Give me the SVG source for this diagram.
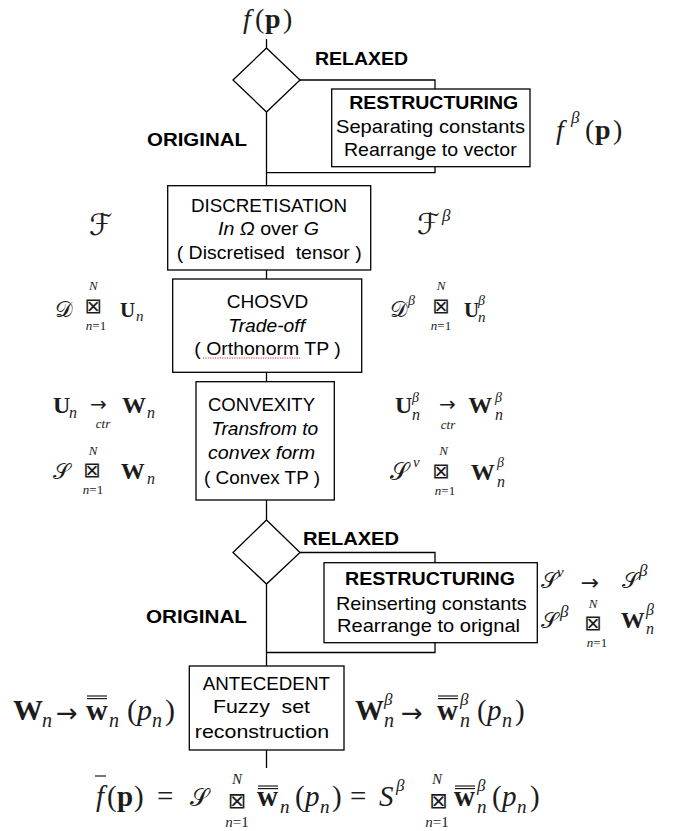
<svg xmlns="http://www.w3.org/2000/svg" width="683" height="831" viewBox="0 0 683 831">
<style>
.box{fill:#fff;stroke:#000;stroke-width:1.3}
.conn{fill:none;stroke:#000;stroke-width:1.3}
.t{font-family:"Liberation Sans",Arial,sans-serif;font-size:19px;text-anchor:middle;fill:#000}
.lbl{font-family:"Liberation Sans",Arial,sans-serif;font-size:19px;font-weight:bold;fill:#000}
.b{font-weight:bold}
.i{font-style:italic}
.m{font-family:"Liberation Serif","Times New Roman",serif;fill:#1c1c1c}
.mi{font-family:"Liberation Serif","Times New Roman",serif;font-style:italic;fill:#1c1c1c}
.mb{font-family:"Liberation Serif","Times New Roman",serif;font-weight:bold;fill:#1c1c1c}
.sy{font-family:"DejaVu Sans",sans-serif;font-style:normal;fill:#1c1c1c}
.c{text-anchor:middle}
.bar{stroke:#1c1c1c;stroke-width:1.2}
</style>

<g id="connectors">
  <path class="conn" d="M266.5,39 V48"/>
  <path class="conn" d="M300,80 H435 V90"/>
  <path class="conn" d="M435,166 V172.7 H266.5"/>
  <path class="conn" d="M266.5,112 V186"/>
  <path class="conn" d="M266.5,270 V279"/>
  <path class="conn" d="M266.5,372 V382"/>
  <path class="conn" d="M266.5,500 V520"/>
  <path class="conn" d="M300,552.5 H435 V563"/>
  <path class="conn" d="M435,642 V652.5 H266.5"/>
  <path class="conn" d="M266.5,584 V666"/>
  <path class="conn" d="M266.5,750 V768"/>
  <text class="lbl" x="315" y="65" textLength="93" lengthAdjust="spacingAndGlyphs">RELAXED</text>
  <text class="lbl" x="147" y="146" textLength="100" lengthAdjust="spacingAndGlyphs">ORIGINAL</text>
  <text class="lbl" x="303" y="545" textLength="96" lengthAdjust="spacingAndGlyphs">RELAXED</text>
  <text class="lbl" x="146" y="623" textLength="101" lengthAdjust="spacingAndGlyphs">ORIGINAL</text>
</g>

<g id="node-input">
  <text class="mi" x="243" y="28" font-size="28">f</text>
  <text class="m" x="255" y="28" font-size="28">(</text>
  <text class="mb" x="265" y="28" font-size="28">p</text>
  <text class="m" x="283" y="28" font-size="28">)</text>
</g>

<g id="node-decision1">
  <polygon class="box" points="266.5,48 300,80 266.5,112 233,80"/>
</g>

<g id="node-restructuring1">
  <rect class="box" x="331.7" y="89" width="198.3" height="77.7"/>
  <text class="t b" x="433.7" y="109" font-size="18.5" textLength="169" lengthAdjust="spacingAndGlyphs">RESTRUCTURING</text>
  <text class="t" x="430.5" y="132.5" font-size="18.5" textLength="189" lengthAdjust="spacingAndGlyphs">Separating constants</text>
  <text class="t" x="430.3" y="156" font-size="18.5" textLength="172.7" lengthAdjust="spacingAndGlyphs">Rearrange to vector</text>
</g>

<g id="node-fbeta">
  <text class="mi" x="556" y="139" font-size="28">f</text>
  <text class="mi" x="571" y="123" font-size="17">β</text>
  <text class="m" x="585" y="139" font-size="28">(</text>
  <text class="mb" x="595" y="139" font-size="28">p</text>
  <text class="m" x="613" y="139" font-size="28">)</text>
</g>

<g id="node-discretisation">
  <rect class="box" x="167.7" y="185.7" width="203" height="84.3"/>
  <text class="t" x="269" y="211.7" textLength="156" lengthAdjust="spacingAndGlyphs">DISCRETISATION</text>
  <text class="t" x="268.5" y="235" textLength="101" lengthAdjust="spacingAndGlyphs"><tspan class="i">In Ω</tspan> over <tspan class="i">G</tspan></text>
  <text class="t" x="269.2" y="259" style="white-space:pre" textLength="185" lengthAdjust="spacingAndGlyphs">( Discretised  tensor )</text>
</g>

<g id="node-chosvd">
  <rect class="box" x="172.7" y="279" width="189" height="93.3"/>
  <text class="t" x="267.5" y="308.3" textLength="81.6" lengthAdjust="spacingAndGlyphs">CHOSVD</text>
  <text class="t i" x="266.7" y="331.7" textLength="76.7" lengthAdjust="spacingAndGlyphs">Trade-off</text>
  <text class="t" x="267.5" y="355" textLength="146.4" lengthAdjust="spacingAndGlyphs">( Orthonorm TP )</text>
  <line x1="203" y1="358" x2="300" y2="358" stroke="#e03030" stroke-width="1" stroke-dasharray="1.2,1.2"/>
</g>

<g id="node-convexity">
  <rect class="box" x="196" y="381.7" width="138.3" height="118.3"/>
  <text class="t" x="261.5" y="411" textLength="107" lengthAdjust="spacingAndGlyphs">CONVEXITY</text>
  <text class="t i" x="264.7" y="434.5" textLength="107" lengthAdjust="spacingAndGlyphs">Transfrom to</text>
  <text class="t i" x="261.5" y="459.3" textLength="107" lengthAdjust="spacingAndGlyphs">convex form</text>
  <text class="t" x="262" y="484.3" textLength="116" lengthAdjust="spacingAndGlyphs">( Convex TP )</text>
</g>

<g id="node-decision2">
  <polygon class="box" points="266.5,520 300,552.5 266.5,584 233,552.5"/>
</g>

<g id="node-restructuring2">
  <rect class="box" x="324" y="562.7" width="213.3" height="80"/>
  <text class="t b" x="430" y="585" font-size="18.5" textLength="170" lengthAdjust="spacingAndGlyphs">RESTRUCTURING</text>
  <text class="t" x="431.3" y="609.5" font-size="18.5" textLength="190.7" lengthAdjust="spacingAndGlyphs">Reinserting constants</text>
  <text class="t" x="428.5" y="631.7" font-size="18.5" textLength="183" lengthAdjust="spacingAndGlyphs">Rearrange to orignal</text>
</g>

<g id="node-antecedent">
  <rect class="box" x="189.3" y="666" width="154.7" height="84"/>
  <text class="t" x="266.3" y="690" textLength="127.3" lengthAdjust="spacingAndGlyphs">ANTECEDENT</text>
  <text class="t" x="261.5" y="713.3" style="white-space:pre" textLength="97" lengthAdjust="spacingAndGlyphs">Fuzzy  set</text>
  <text class="t" x="262" y="737.7" textLength="134.3" lengthAdjust="spacingAndGlyphs">reconstruction</text>
</g>

<g id="formulas">
  <!-- F left / right -->
  <text class="sy" x="89" y="235" font-size="30">ℱ</text>
  <text class="sy" x="417" y="234" font-size="29">ℱ</text>
  <text class="mi" x="442" y="221" font-size="17">β</text>

  <!-- D x U left -->
  <text class="sy" x="55" y="317" font-size="22">𝒟</text>
  <text class="mi c" x="93.3" y="290" font-size="13">N</text>
  <text class="sy c" x="93.3" y="312.5" font-size="21">⊠</text>
  <text class="m c" x="96" y="329.5" font-size="13"><tspan class="mi">n</tspan>=1</text>
  <text class="mb" x="120" y="317" font-size="21">U</text>
  <text class="mi" x="136" y="321" font-size="15">n</text>
  <!-- D x U right -->
  <text class="sy" x="390" y="317" font-size="22">𝒟</text>
  <text class="mi" x="408" y="305" font-size="14">β</text>
  <text class="mi c" x="441" y="290" font-size="13">N</text>
  <text class="sy c" x="441" y="312.5" font-size="21">⊠</text>
  <text class="m c" x="441" y="329.5" font-size="13"><tspan class="mi">n</tspan>=1</text>
  <text class="mb" x="464" y="317" font-size="21">U</text>
  <text class="mi" x="478" y="305" font-size="14">β</text>
  <text class="mi" x="478" y="322" font-size="15">n</text>

  <!-- U -> W left -->
  <text class="mb" x="53" y="413" font-size="24">U</text>
  <text class="mi" x="69" y="418" font-size="16">n</text>
  <text class="sy c" x="98.5" y="411" font-size="20">→</text>
  <text class="mi c" x="103" y="428" font-size="13">ctr</text>
  <text class="mb" x="122" y="413" font-size="24">W</text>
  <text class="mi" x="147" y="418" font-size="16">n</text>
  <!-- S x W left -->
  <text class="sy" x="53" y="479" font-size="22">𝒮</text>
  <text class="mi c" x="93" y="454.5" font-size="13">N</text>
  <text class="sy c" x="92" y="477" font-size="21">⊠</text>
  <text class="m c" x="93" y="494" font-size="13"><tspan class="mi">n</tspan>=1</text>
  <text class="mb" x="120.7" y="479" font-size="24">W</text>
  <text class="mi" x="147" y="484" font-size="16">n</text>

  <!-- U -> W right -->
  <text class="mb" x="395" y="413" font-size="24">U</text>
  <text class="mi" x="412" y="402" font-size="14">β</text>
  <text class="mi" x="412" y="420" font-size="16">n</text>
  <text class="sy c" x="447.5" y="411" font-size="20">→</text>
  <text class="mi c" x="448" y="428.5" font-size="13">ctr</text>
  <text class="mb" x="468.3" y="413" font-size="24">W</text>
  <text class="mi" x="495" y="402" font-size="14">β</text>
  <text class="mi" x="495" y="420" font-size="16">n</text>
  <!-- S^v x W right -->
  <text class="sy" x="390" y="480" font-size="24">𝒮</text>
  <text class="mi" x="413" y="467" font-size="15">v</text>
  <text class="mi c" x="443.5" y="455" font-size="13">N</text>
  <text class="sy c" x="441" y="478" font-size="21">⊠</text>
  <text class="m c" x="445" y="495" font-size="13"><tspan class="mi">n</tspan>=1</text>
  <text class="mb" x="470.7" y="480" font-size="24">W</text>
  <text class="mi" x="497" y="467" font-size="14">β</text>
  <text class="mi" x="497" y="487" font-size="16">n</text>

  <!-- S^v -> S^beta -->
  <text class="sy" x="540.7" y="588" font-size="22">𝒮</text>
  <text class="mi" x="557" y="577" font-size="15">v</text>
  <text class="sy c" x="590" y="590" font-size="22">→</text>
  <text class="sy" x="621.7" y="588" font-size="22">𝒮</text>
  <text class="mi" x="639" y="576" font-size="17">β</text>
  <!-- S^beta x W^beta -->
  <text class="sy" x="540.7" y="628.3" font-size="22">𝒮</text>
  <text class="mi" x="560" y="617" font-size="17">β</text>
  <text class="mi c" x="593" y="607.5" font-size="13">N</text>
  <text class="sy c" x="593" y="630" font-size="21">⊠</text>
  <text class="m c" x="597" y="647" font-size="13"><tspan class="mi">n</tspan>=1</text>
  <text class="mb" x="620.7" y="628.3" font-size="24">W</text>
  <text class="mi" x="646" y="615" font-size="16">β</text>
  <text class="mi" x="646" y="634" font-size="16">n</text>

  <!-- W_n -> w(p_n) left -->
  <text class="mb" x="13" y="720" font-size="30">W</text>
  <text class="mi" x="42" y="727" font-size="20">n</text>
  <text class="sy c" x="67" y="722" font-size="26">→</text>
  <text class="mb" x="86" y="720" font-size="30">w</text>
  <line class="bar" x1="87" y1="696" x2="107" y2="696"/>
  <line class="bar" x1="87" y1="698.6" x2="107" y2="698.6"/>
  <text class="mi" x="109" y="727" font-size="20">n</text>
  <text class="m" x="127" y="720" font-size="30">(</text>
  <text class="mi" x="137" y="720" font-size="30">p</text>
  <text class="mi" x="152" y="727" font-size="20">n</text>
  <text class="m" x="165" y="720" font-size="30">)</text>
  <!-- W -> w right -->
  <text class="mb" x="355" y="720" font-size="29">W</text>
  <text class="mi" x="384" y="705" font-size="17">β</text>
  <text class="mi" x="384" y="727" font-size="20">n</text>
  <text class="sy c" x="412" y="722" font-size="26">→</text>
  <text class="mb" x="437" y="720" font-size="29">w</text>
  <line class="bar" x1="438" y1="696" x2="458" y2="696"/>
  <line class="bar" x1="438" y1="698.6" x2="458" y2="698.6"/>
  <text class="mi" x="460" y="705" font-size="17">β</text>
  <text class="mi" x="460" y="727" font-size="20">n</text>
  <text class="m" x="477" y="720" font-size="29">(</text>
  <text class="mi" x="487" y="720" font-size="29">p</text>
  <text class="mi" x="502" y="727" font-size="20">n</text>
  <text class="m" x="515" y="720" font-size="29">)</text>
</g>

<g id="node-result">
  <text class="mi" x="96" y="806" font-size="29">f</text>
  <line class="bar" x1="95" y1="776" x2="106" y2="776"/>
  <text class="m" x="107" y="806" font-size="29">(</text>
  <text class="mb" x="117" y="806" font-size="29">p</text>
  <text class="m" x="134" y="806" font-size="29">)</text>
  <text class="m" x="157" y="806" font-size="29">=</text>
  <text class="sy" x="190" y="806" font-size="24">𝒮</text>
  <text class="mi c" x="237" y="784" font-size="15">N</text>
  <text class="sy c" x="237" y="808" font-size="22">⊠</text>
  <text class="m c" x="237" y="827" font-size="15"><tspan class="mi">n</tspan>=1</text>
  <text class="mb" x="257" y="806" font-size="29">w</text>
  <line class="bar" x1="258" y1="786" x2="278" y2="786"/>
  <line class="bar" x1="258" y1="788.6" x2="278" y2="788.6"/>
  <text class="mi" x="280" y="813" font-size="19">n</text>
  <text class="m" x="295" y="806" font-size="29">(</text>
  <text class="mi" x="305" y="806" font-size="29">p</text>
  <text class="mi" x="320" y="813" font-size="19">n</text>
  <text class="m" x="332" y="806" font-size="29">)</text>
  <text class="m" x="350" y="806" font-size="29">=</text>
  <text class="mi" x="379" y="806" font-size="29">S</text>
  <text class="mi" x="396" y="791" font-size="17">β</text>
  <text class="mi c" x="437" y="784" font-size="15">N</text>
  <text class="sy c" x="438.5" y="808" font-size="22">⊠</text>
  <text class="m c" x="437" y="827" font-size="15"><tspan class="mi">n</tspan>=1</text>
  <text class="mb" x="454" y="806" font-size="29">w</text>
  <line class="bar" x1="455" y1="786" x2="475" y2="786"/>
  <line class="bar" x1="455" y1="788.6" x2="475" y2="788.6"/>
  <text class="mi" x="477" y="791" font-size="17">β</text>
  <text class="mi" x="477" y="813" font-size="19">n</text>
  <text class="m" x="492" y="806" font-size="29">(</text>
  <text class="mi" x="502" y="806" font-size="29">p</text>
  <text class="mi" x="517" y="813" font-size="19">n</text>
  <text class="m" x="530" y="806" font-size="29">)</text>
</g>
</svg>
